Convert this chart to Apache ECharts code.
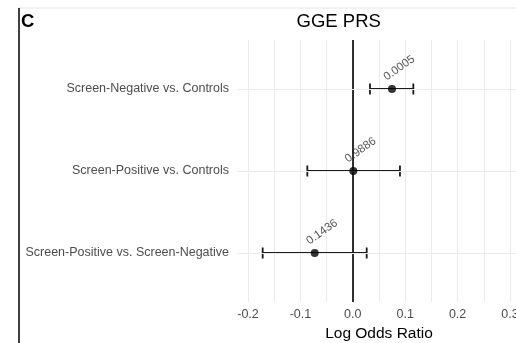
<!DOCTYPE html>
<html>
<head>
<meta charset="utf-8">
<script src="https://cdn.jsdelivr.net/npm/echarts@6/dist/echarts.min.js"></script>
<style>
  html, body { margin: 0; padding: 0; background: #ffffff; }
  #chart { width: 516px; height: 343px; }
</style>
</head>
<body>
<div id="chart"></div>
<script>
// Comparisons, estimates (log odds ratio), 95% CI bounds and p-values
const comparisons = [
  'Screen-Negative vs. Controls',
  'Screen-Positive vs. Controls',
  'Screen-Positive vs. Screen-Negative'
];
const logOdds = [0.0748, 0.001, -0.0727];
const ciLower = [0.0328, -0.0868, -0.172];
const ciUpper = [0.1155, 0.090, 0.0265];
const pValues = ['0.0005', '0.9886', '0.1436'];
const xTickLabels = [-0.2, -0.1, 0.0, 0.1, 0.2, 0.3];

const FONT = '"Liberation Sans", Arial, Helvetica, sans-serif';
const chart = echarts.init(document.getElementById('chart'), null, { renderer: 'canvas' });

const errorBarData = comparisons.map((c, i) => [i, ciLower[i], ciUpper[i]]);
const pointData = comparisons.map((c, i) => [logOdds[i], i]);

const option = {
  animation: false,
  backgroundColor: '#ffffff',
  textStyle: { fontFamily: FONT },
  graphic: [
    // figure frame
    { type: 'line', shape: { x1: 18, y1: 8, x2: 516, y2: 8 }, style: { stroke: '#e3e3e3', lineWidth: 1 }, silent: true },
    { type: 'line', shape: { x1: 19, y1: 8, x2: 19, y2: 343 }, style: { stroke: '#111111', lineWidth: 1.6 }, silent: true },
    // panel tag
    { type: 'text', x: 21, y: 21.7, style: { text: 'C', fontFamily: FONT, fontSize: 18.5, fontWeight: 'bold', fill: '#000', textVerticalAlign: 'middle' }, silent: true },
    // plot title
    { type: 'text', x: 338.7, y: 21.7, style: { text: 'GGE PRS', fontFamily: FONT, fontSize: 18.5, fill: '#000', textAlign: 'center', textVerticalAlign: 'middle' }, silent: true }
  ],
  grid: [
    // axis/gridline panel
    { left: 248, width: 262, top: 40, height: 262, outerBoundsMode: 'none', containLabel: false },
    // data panel
    { left: 237, width: 284, top: 48, height: 246, outerBoundsMode: 'none', containLabel: false }
  ],
  xAxis: [
    {
      gridIndex: 0, type: 'value', min: -0.2, max: 0.3, interval: 0.05,
      axisLine: { show: false }, axisTick: { show: false },
      splitLine: { show: true, lineStyle: { color: '#ebebeb', width: 1 } },
      axisLabel: {
        color: '#4d4d4d', fontSize: 12.5, fontFamily: FONT, margin: 6,
        showMinLabel: true, showMaxLabel: true, hideOverlap: false,
        formatter: function (v) {
          const hit = xTickLabels.find(t => Math.abs(t - v) < 1e-6);
          return hit === undefined ? '' : hit.toFixed(1);
        }
      },
      name: 'Log Odds Ratio', nameLocation: 'middle', nameGap: 17,
      nameTextStyle: { color: '#000', fontSize: 15.5, fontFamily: FONT }
    },
    {
      gridIndex: 1, type: 'value', min: -0.221, max: 0.321, show: false
    }
  ],
  yAxis: [
    { gridIndex: 0, type: 'value', min: 0, max: 1, show: false },
    {
      gridIndex: 1, type: 'category', data: comparisons, inverse: true,
      axisLine: { show: false }, axisTick: { show: false },
      splitLine: { show: false },
      axisLabel: { color: '#4d4d4d', fontSize: 12.5, fontFamily: FONT, margin: 8 }
    }
  ],
  series: [
    {
      // vertical reference line at zero
      type: 'line', xAxisIndex: 0, yAxisIndex: 0, data: [], z: 3,
      markLine: {
        silent: true, symbol: 'none', label: { show: false },
        lineStyle: { color: '#1a1a1a', width: 1.8, type: 'solid' },
        data: [{ xAxis: 0 }]
      }
    },
    {
      // horizontal gridlines at each comparison
      type: 'line', xAxisIndex: 1, yAxisIndex: 1, data: [], z: 1,
      markLine: {
        silent: true, symbol: 'none', label: { show: false },
        lineStyle: { color: '#ebebeb', width: 1, type: 'solid' },
        data: comparisons.map(c => ({ yAxis: c }))
      }
    },
    {
      // confidence-interval error bars
      type: 'custom', xAxisIndex: 1, yAxisIndex: 1, z: 4,
      data: errorBarData,
      encode: { x: [1, 2], y: 0 },
      renderItem: function (params, api) {
        const idx = api.value(0);
        const lo = api.coord([api.value(1), idx]);
        const hi = api.coord([api.value(2), idx]);
        const cap = 5.5;
        const st = { stroke: '#1a1a1a', lineWidth: 1.8, fill: null };
        return {
          type: 'group',
          children: [
            { type: 'line', shape: { x1: lo[0], y1: lo[1], x2: hi[0], y2: hi[1] }, style: st },
            { type: 'line', shape: { x1: lo[0], y1: lo[1] - cap, x2: lo[0], y2: lo[1] + cap }, style: st },
            { type: 'line', shape: { x1: hi[0], y1: hi[1] - cap, x2: hi[0], y2: hi[1] + cap }, style: st }
          ]
        };
      }
    },
    {
      // point estimates with p-value labels
      type: 'scatter', xAxisIndex: 1, yAxisIndex: 1, z: 5,
      data: pointData,
      symbol: 'circle', symbolSize: 8,
      itemStyle: { color: '#000' },
      label: {
        show: true, position: 'inside', align: 'center', verticalAlign: 'middle',
        rotate: 35, offset: [18, -13],
        color: '#2b2b2b', fontSize: 11.5, fontFamily: FONT,
        formatter: p => pValues[p.dataIndex]
      }
    }
  ]
};
chart.setOption(option);
</script>
</body>
</html>
